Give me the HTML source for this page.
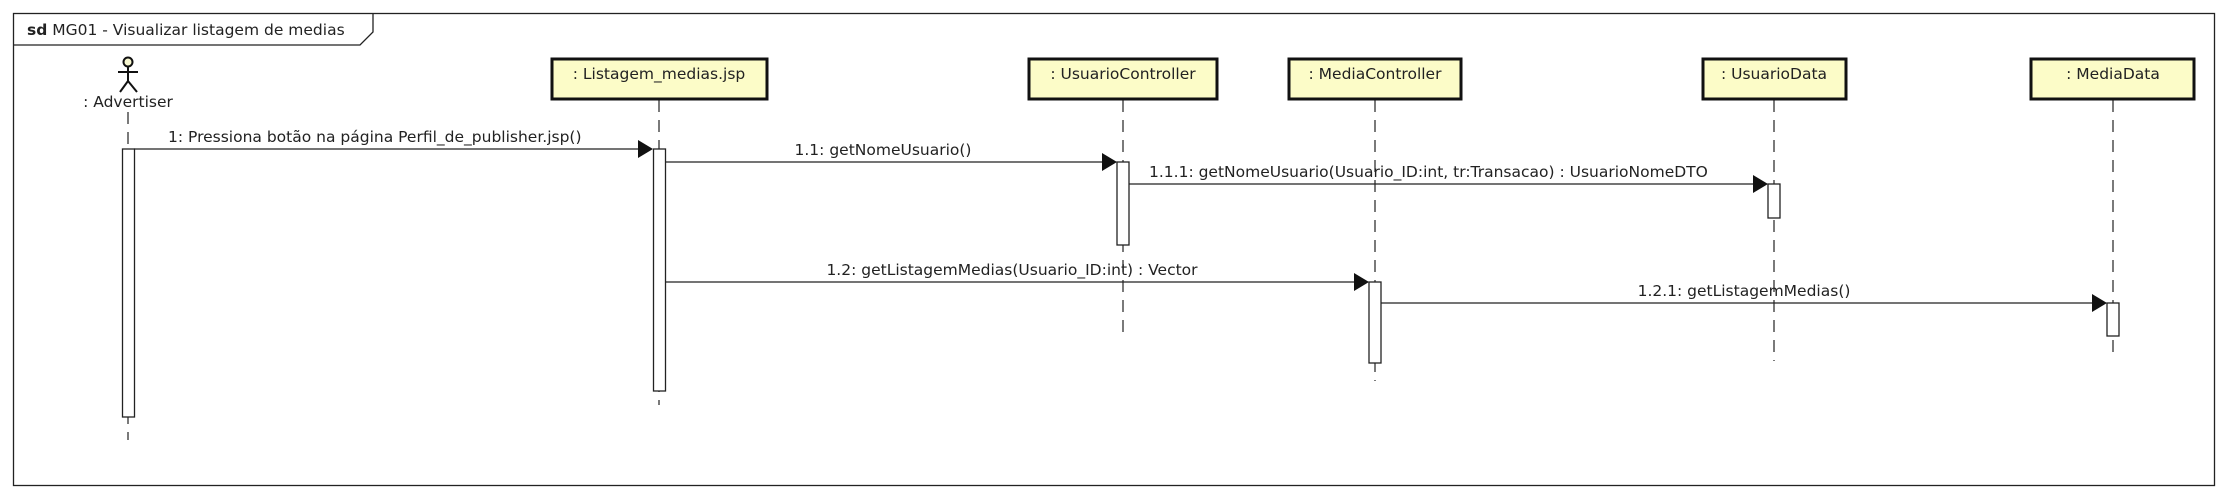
<!DOCTYPE html>
<html><head><meta charset="utf-8"><style>
html,body{margin:0;padding:0;background:#fff;}
svg{display:block;}
text{font-family:"DejaVu Sans","Liberation Sans",sans-serif;font-size:15.5px;fill:#222;}
</style></head><body>
<svg width="2229" height="500" viewBox="0 0 2229 500" xmlns="http://www.w3.org/2000/svg">
<rect x="0" y="0" width="2229" height="500" fill="#fff"/>
<rect x="13.5" y="13.5" width="2201" height="472" fill="none" stroke="#222" stroke-width="1.3"/>
<path d="M13.5 45 H360 L373 32 V13.5" fill="none" stroke="#222" stroke-width="1.3"/>
<text x="27" y="35"><tspan font-weight="bold">sd</tspan> MG01 - Visualizar listagem de medias</text>

<g stroke="#333" stroke-width="1.3" stroke-dasharray="12,8" fill="none">
<line x1="128" y1="112" x2="128" y2="440"/>
<line x1="659" y1="100" x2="659" y2="405"/>
<line x1="1123" y1="100" x2="1123" y2="332"/>
<line x1="1375" y1="100" x2="1375" y2="381"/>
<line x1="1774" y1="100" x2="1774" y2="361"/>
<line x1="2113" y1="100" x2="2113" y2="356"/>
</g>

<g stroke="#111" stroke-width="2" fill="none">
<circle cx="128" cy="62" r="4.5" fill="#f7f7d0"/>
<line x1="128" y1="67" x2="128" y2="81"/>
<line x1="118" y1="72" x2="138" y2="72"/>
<line x1="128" y1="81" x2="120" y2="92"/>
<line x1="128" y1="81" x2="137" y2="92"/>
</g>
<text x="128" y="107" text-anchor="middle">: Advertiser</text>

<g fill="#fcfcc8" stroke="#111" stroke-width="3">
<rect x="552" y="59" width="215" height="40"/>
<rect x="1029" y="59" width="188" height="40"/>
<rect x="1289" y="59" width="172" height="40"/>
<rect x="1703" y="59" width="143" height="40"/>
<rect x="2031" y="59" width="163" height="40"/>
</g>
<text x="659" y="79" text-anchor="middle">: Listagem_medias.jsp</text>
<text x="1123" y="79" text-anchor="middle">: UsuarioController</text>
<text x="1375" y="79" text-anchor="middle">: MediaController</text>
<text x="1774" y="79" text-anchor="middle">: UsuarioData</text>
<text x="2113" y="79" text-anchor="middle">: MediaData</text>

<g fill="#fff" stroke="#222" stroke-width="1.3">
<rect x="122.5" y="149" width="12" height="268"/>
<rect x="653.5" y="149" width="12" height="242"/>
<rect x="1117" y="162" width="12" height="83"/>
<rect x="1768" y="184" width="12" height="34"/>
<rect x="1369" y="282" width="12" height="81"/>
<rect x="2107" y="303" width="12" height="33"/>
</g>

<g stroke="#222" stroke-width="1.3">
<line x1="134" y1="149" x2="645" y2="149"/>
<line x1="665" y1="162" x2="1108" y2="162"/>
<line x1="1129" y1="184" x2="1759" y2="184"/>
<line x1="665" y1="282" x2="1360" y2="282"/>
<line x1="1381" y1="303" x2="2098" y2="303"/>
</g>
<g fill="#111">
<polygon points="638,140 653,149 638,158"/>
<polygon points="1102,153 1117,162 1102,171"/>
<polygon points="1753,175 1768,184 1753,193"/>
<polygon points="1354,273 1369,282 1354,291"/>
<polygon points="2092,294 2107,303 2092,312"/>
</g>
<text x="168" y="142">1: Pressiona botão na página Perfil_de_publisher.jsp()</text>
<text x="883" y="155" text-anchor="middle">1.1: getNomeUsuario()</text>
<text x="1149" y="177">1.1.1: getNomeUsuario(Usuario_ID:int, tr:Transacao) : UsuarioNomeDTO</text>
<text x="1012" y="275" text-anchor="middle">1.2: getListagemMedias(Usuario_ID:int) : Vector</text>
<text x="1744" y="296" text-anchor="middle">1.2.1: getListagemMedias()</text>
</svg>
</body></html>
